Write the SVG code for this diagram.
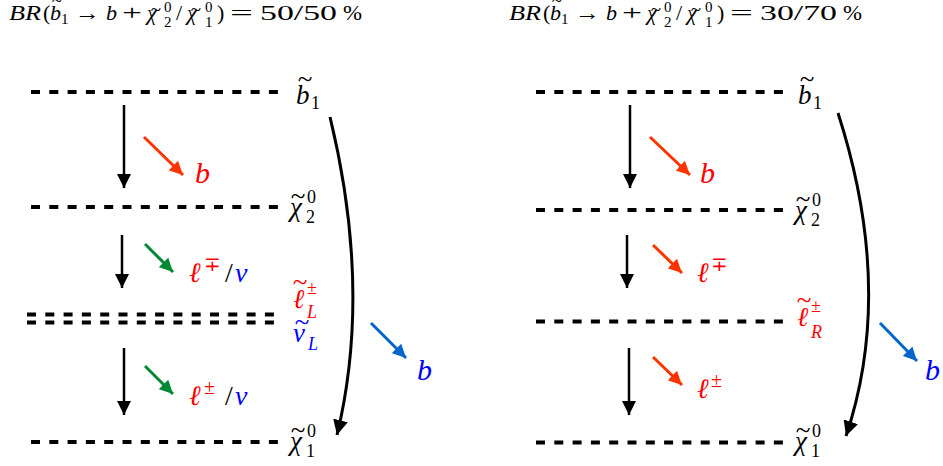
<svg xmlns="http://www.w3.org/2000/svg" width="943" height="466" viewBox="0 0 943 466">
<style>
text{font-family:"Liberation Serif","DejaVu Serif",serif}
.i{font-style:italic}
.lab{font-size:27px}
.sm{font-size:18px;font-style:normal}
.tl{font-size:27px;font-style:normal}
.lvl{stroke:#000;stroke-width:4;stroke-dasharray:9 9.3;fill:none}
.blk{stroke:#000;stroke-width:2.5;fill:none}
.red{stroke:#ff3300;stroke-width:3;fill:none}
.grn{stroke:#008833;stroke-width:3;fill:none}
.blu{stroke:#0066cc;stroke-width:3;fill:none}
.curve{stroke:#000;stroke-width:3;fill:none}
.ttl{font-size:22px}
.ts{font-size:15px}
.tt{font-size:19px}
</style>
<defs>
<marker id="hb" viewBox="0 0 10 10" refX="10" refY="5" markerWidth="5.6" markerHeight="5.6" orient="auto" markerUnits="strokeWidth"><path d="M0,0 L10,5 L0,10 z" fill="#000"/></marker>
<marker id="hr" viewBox="0 0 10 10" refX="10" refY="5" markerWidth="4.5" markerHeight="4.5" orient="auto" markerUnits="strokeWidth"><path d="M0,0 L10,5 L0,10 z" fill="#ff3300"/></marker>
<marker id="hg" viewBox="0 0 10 10" refX="10" refY="5" markerWidth="4.5" markerHeight="4.5" orient="auto" markerUnits="strokeWidth"><path d="M0,0 L10,5 L0,10 z" fill="#008833"/></marker>
<marker id="hbl" viewBox="0 0 10 10" refX="10" refY="5" markerWidth="4.5" markerHeight="4.5" orient="auto" markerUnits="strokeWidth"><path d="M0,0 L10,5 L0,10 z" fill="#0066cc"/></marker>
<marker id="hc" viewBox="0 0 10 10" refX="10" refY="5" markerWidth="5" markerHeight="5" orient="auto" markerUnits="strokeWidth"><path d="M0,0 L10,5 L0,10 z" fill="#000"/></marker>
</defs>

<!-- Titles -->
<g id="title-left" class="ttl">
<text y="20" class="ttl"><tspan class="i" x="9" textLength="32" lengthAdjust="spacingAndGlyphs">BR</tspan><tspan x="43">(</tspan><tspan class="i" x="50">b</tspan><tspan x="75" textLength="25" lengthAdjust="spacingAndGlyphs">→</tspan><tspan class="i" x="106">b</tspan><tspan x="122" textLength="20" lengthAdjust="spacingAndGlyphs">+</tspan><tspan class="i" x="147">χ</tspan><tspan x="176">/</tspan><tspan class="i" x="187">χ</tspan><tspan x="217">)</tspan><tspan x="230" textLength="23" lengthAdjust="spacingAndGlyphs">=</tspan><tspan x="260" textLength="77" lengthAdjust="spacingAndGlyphs">50/50</tspan><tspan x="343" textLength="19" lengthAdjust="spacingAndGlyphs">%</tspan></text>
<text class="ts"><tspan x="61" y="24">1</tspan><tspan x="164" y="12">0</tspan><tspan x="164" y="27">2</tspan><tspan x="205" y="12">0</tspan><tspan x="205" y="27">1</tspan></text>
<text class="tt" text-anchor="middle"><tspan x="57" y="7">~</tspan><tspan x="156" y="16">~</tspan><tspan x="196" y="16">~</tspan></text>
</g>
<g id="title-right" class="ttl">
<text y="20" class="ttl"><tspan class="i" x="509" textLength="32" lengthAdjust="spacingAndGlyphs">BR</tspan><tspan x="543">(</tspan><tspan class="i" x="550">b</tspan><tspan x="575" textLength="25" lengthAdjust="spacingAndGlyphs">→</tspan><tspan class="i" x="606">b</tspan><tspan x="622" textLength="20" lengthAdjust="spacingAndGlyphs">+</tspan><tspan class="i" x="647">χ</tspan><tspan x="676">/</tspan><tspan class="i" x="687">χ</tspan><tspan x="717">)</tspan><tspan x="730" textLength="23" lengthAdjust="spacingAndGlyphs">=</tspan><tspan x="760" textLength="77" lengthAdjust="spacingAndGlyphs">30/70</tspan><tspan x="843" textLength="19" lengthAdjust="spacingAndGlyphs">%</tspan></text>
<text class="ts"><tspan x="561" y="24">1</tspan><tspan x="664" y="12">0</tspan><tspan x="664" y="27">2</tspan><tspan x="705" y="12">0</tspan><tspan x="705" y="27">1</tspan></text>
<text class="tt" text-anchor="middle"><tspan x="557" y="7">~</tspan><tspan x="656" y="16">~</tspan><tspan x="696" y="16">~</tspan></text>
</g>

<!-- Left diagram levels -->
<g id="L-b1"><line class="lvl" x1="31" y1="92" x2="280" y2="92"/>
<text class="lab"><tspan class="i" x="296" y="104">b</tspan><tspan class="sm" x="311" y="109">1</tspan></text><text class="tl" x="305" y="88" text-anchor="middle">~</text></g>
<g id="L-chi2"><line class="lvl" x1="31" y1="207" x2="280" y2="207"/>
<text class="lab"><tspan class="i" x="290" y="216">χ</tspan><tspan class="sm" x="306" y="223">2</tspan><tspan class="sm" x="307" y="203">0</tspan></text><text class="tl" x="298" y="205" text-anchor="middle">~</text></g>
<g id="L-slep"><line class="lvl" x1="27" y1="314.5" x2="278" y2="314.5"/><line class="lvl" x1="27" y1="322.5" x2="278" y2="322.5"/>
<text class="lab" fill="#ff0000"><tspan class="i" x="293" y="308">ℓ</tspan><tspan class="sm" x="307" y="294">±</tspan><tspan class="sm" style="font-style:italic" x="307" y="318">L</tspan></text><text class="tl" x="300" y="291" text-anchor="middle" fill="#ff0000">~</text>
<text class="lab" fill="#0000ff"><tspan class="i" x="293" y="342">ν</tspan><tspan class="sm" style="font-style:italic" x="308" y="350">L</tspan></text><text class="tl" x="302" y="331" text-anchor="middle" fill="#0000ff">~</text></g>
<g id="L-chi1"><line class="lvl" x1="31" y1="442" x2="280" y2="442"/>
<text class="lab"><tspan class="i" x="290" y="450">χ</tspan><tspan class="sm" x="306" y="457">1</tspan><tspan class="sm" x="307" y="437">0</tspan></text><text class="tl" x="298" y="439" text-anchor="middle">~</text></g>

<!-- Right diagram levels -->
<g id="R-b1"><line class="lvl" x1="536" y1="92" x2="785" y2="92"/>
<text class="lab"><tspan class="i" x="798" y="104">b</tspan><tspan class="sm" x="813" y="109">1</tspan></text><text class="tl" x="807" y="88" text-anchor="middle">~</text></g>
<g id="R-chi2"><line class="lvl" x1="536" y1="210" x2="785" y2="210"/>
<text class="lab"><tspan class="i" x="795" y="219">χ</tspan><tspan class="sm" x="811" y="226">2</tspan><tspan class="sm" x="812" y="206">0</tspan></text><text class="tl" x="803" y="208" text-anchor="middle">~</text></g>
<g id="R-slep"><line class="lvl" x1="536" y1="321.5" x2="785" y2="321.5"/>
<text class="lab" fill="#ff0000"><tspan class="i" x="797" y="326">ℓ</tspan><tspan class="sm" x="811" y="312">±</tspan><tspan class="sm" style="font-style:italic" x="811" y="338">R</tspan></text><text class="tl" x="804" y="309" text-anchor="middle" fill="#ff0000">~</text></g>
<g id="R-chi1"><line class="lvl" x1="536" y1="442.5" x2="785" y2="442.5"/>
<text class="lab"><tspan class="i" x="795" y="450">χ</tspan><tspan class="sm" x="811" y="457">1</tspan><tspan class="sm" x="812" y="437">0</tspan></text><text class="tl" x="803" y="439" text-anchor="middle">~</text></g>

<!-- Emission labels -->
<g id="labels">
<text class="i" x="195" y="183" font-size="30" fill="#ff0000">b</text>
<text font-size="28"><tspan class="i" x="189" y="282" fill="#ff0000">ℓ</tspan><tspan x="204" y="271" font-size="20" fill="#ff0000">∓</tspan><tspan x="225" y="282">/</tspan><tspan class="i" x="235" y="282" fill="#0000ff">ν</tspan></text>
<text font-size="28"><tspan class="i" x="189" y="405" fill="#ff0000">ℓ</tspan><tspan x="204" y="394" font-size="20" fill="#ff0000">±</tspan><tspan x="225" y="405">/</tspan><tspan class="i" x="235" y="405" fill="#0000ff">ν</tspan></text>
<text class="i" x="417" y="380" font-size="30" fill="#0000ff">b</text>
<text class="i" x="700" y="183" font-size="30" fill="#ff0000">b</text>
<text font-size="28" fill="#ff0000"><tspan class="i" x="697" y="282">ℓ</tspan><tspan x="711" y="271" font-size="20">∓</tspan></text>
<text font-size="28" fill="#ff0000"><tspan class="i" x="697" y="398">ℓ</tspan><tspan x="711" y="387" font-size="20">±</tspan></text>
<text class="i" x="925" y="380" font-size="30" fill="#0000ff">b</text>
</g>

<!-- Connectors -->
<g id="connectors">
<line class="blk" x1="124" y1="105" x2="124" y2="188" marker-end="url(#hb)"/>
<line class="blk" x1="122" y1="235" x2="122" y2="288" marker-end="url(#hb)"/>
<line class="blk" x1="124" y1="348" x2="124" y2="415" marker-end="url(#hb)"/>
<line class="red" x1="144" y1="137" x2="183" y2="175" marker-end="url(#hr)"/>
<line class="grn" x1="145" y1="244" x2="173" y2="272" marker-end="url(#hg)"/>
<line class="grn" x1="145" y1="366" x2="173" y2="394" marker-end="url(#hg)"/>
<path class="curve" d="M330,117 Q372,290 337,435" marker-end="url(#hc)"/>
<line class="blu" x1="371" y1="323" x2="406" y2="358" marker-end="url(#hbl)"/>

<line class="blk" x1="630" y1="105" x2="630" y2="188" marker-end="url(#hb)"/>
<line class="blk" x1="627" y1="235" x2="627" y2="288" marker-end="url(#hb)"/>
<line class="blk" x1="629" y1="348" x2="629" y2="415" marker-end="url(#hb)"/>
<line class="red" x1="650" y1="137" x2="690" y2="175" marker-end="url(#hr)"/>
<line class="red" x1="653" y1="245" x2="682" y2="273" marker-end="url(#hr)"/>
<line class="red" x1="653" y1="357" x2="682" y2="385" marker-end="url(#hr)"/>
<path class="curve" d="M838,113 Q895,290 846,436" marker-end="url(#hc)"/>
<line class="blu" x1="880" y1="323" x2="917" y2="361" marker-end="url(#hbl)"/>
</g>
</svg>
